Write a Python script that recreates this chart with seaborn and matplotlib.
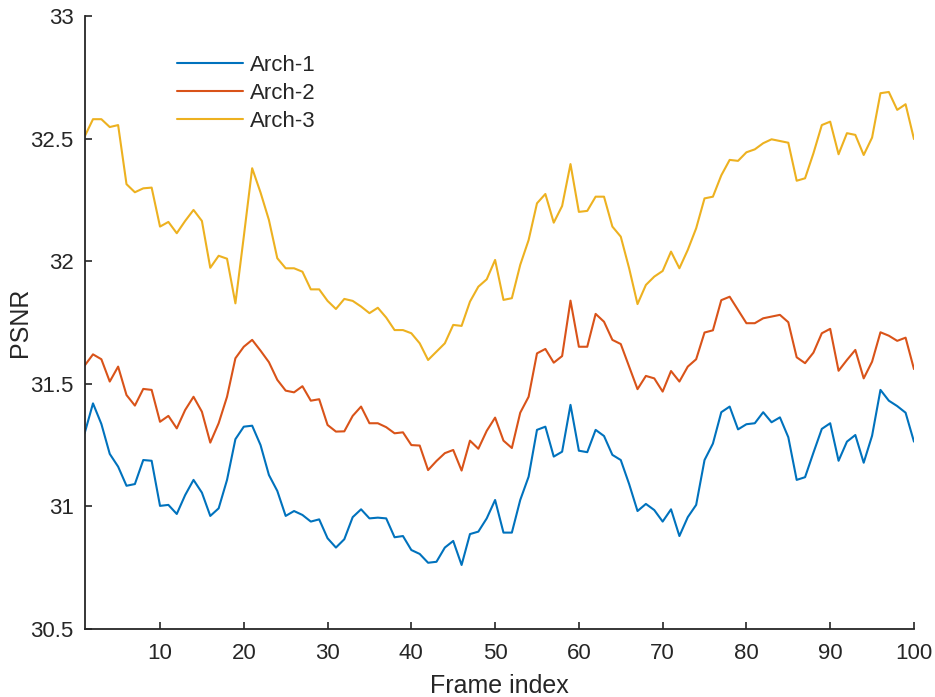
import numpy as np
import pandas as pd
import seaborn as sns
import matplotlib
matplotlib.use("Agg")
import matplotlib.pyplot as plt

# frame indices 1..100
frames = list(range(1, 101))

# PSNR values
arch1 = [31.298, 31.420, 31.336, 31.214, 31.162, 31.084, 31.091, 31.189, 31.186, 31.002,
         31.006, 30.969, 31.046, 31.108, 31.056, 30.961, 30.992, 31.108, 31.274, 31.325,
         31.329, 31.250, 31.128, 31.063, 30.961, 30.981, 30.965, 30.938, 30.947, 30.870,
         30.832, 30.866, 30.956, 30.988, 30.951, 30.954, 30.951, 30.874, 30.879, 30.822,
         30.806, 30.770, 30.774, 30.832, 30.859, 30.761, 30.887, 30.897, 30.951, 31.026,
         30.893, 30.893, 31.026, 31.121, 31.312, 31.325, 31.203, 31.223, 31.414, 31.227,
         31.221, 31.312, 31.287, 31.210, 31.189, 31.091, 30.981, 31.010, 30.985, 30.938,
         30.988, 30.879, 30.956, 31.006, 31.189, 31.256, 31.384, 31.407, 31.314, 31.335,
         31.339, 31.384, 31.343, 31.363, 31.282, 31.108, 31.119, 31.219, 31.316, 31.339,
         31.186, 31.264, 31.291, 31.178, 31.288, 31.475, 31.431, 31.409, 31.382, 31.264]

arch2 = [31.574, 31.620, 31.600, 31.509, 31.570, 31.454, 31.411, 31.479, 31.475, 31.345,
         31.369, 31.318, 31.393, 31.447, 31.386, 31.260, 31.339, 31.447, 31.604, 31.651,
         31.679, 31.635, 31.588, 31.516, 31.472, 31.465, 31.490, 31.431, 31.437, 31.332,
         31.305, 31.306, 31.369, 31.407, 31.339, 31.339, 31.323, 31.298, 31.302, 31.250,
         31.248, 31.148, 31.185, 31.217, 31.230, 31.146, 31.268, 31.235, 31.308, 31.362,
         31.268, 31.238, 31.382, 31.447, 31.624, 31.642, 31.586, 31.613, 31.839, 31.651,
         31.651, 31.785, 31.753, 31.679, 31.662, 31.570, 31.478, 31.532, 31.522, 31.468,
         31.552, 31.509, 31.570, 31.600, 31.709, 31.718, 31.841, 31.855, 31.801, 31.747,
         31.747, 31.767, 31.774, 31.781, 31.751, 31.608, 31.584, 31.627, 31.706, 31.724,
         31.553, 31.597, 31.638, 31.522, 31.590, 31.710, 31.696, 31.675, 31.688, 31.560]

arch3 = [32.508, 32.579, 32.579, 32.547, 32.555, 32.314, 32.281, 32.297, 32.300, 32.141,
         32.160, 32.114, 32.164, 32.209, 32.164, 31.973, 32.022, 32.010, 31.828, 32.100,
         32.379, 32.280, 32.168, 32.012, 31.971, 31.971, 31.957, 31.885, 31.885, 31.838,
         31.805, 31.846, 31.838, 31.815, 31.788, 31.810, 31.770, 31.719, 31.719, 31.706,
         31.665, 31.597, 31.631, 31.665, 31.740, 31.736, 31.835, 31.896, 31.926, 32.005,
         31.842, 31.849, 31.985, 32.086, 32.236, 32.274, 32.157, 32.225, 32.396, 32.201,
         32.205, 32.263, 32.263, 32.141, 32.100, 31.971, 31.825, 31.903, 31.937, 31.960,
         32.039, 31.971, 32.046, 32.134, 32.256, 32.263, 32.350, 32.413, 32.409, 32.444,
         32.456, 32.481, 32.497, 32.490, 32.483, 32.328, 32.338, 32.440, 32.555, 32.569,
         32.436, 32.522, 32.515, 32.433, 32.504, 32.685, 32.690, 32.617, 32.640, 32.498]

series_names = ["Arch-1", "Arch-2", "Arch-3"]
colors = ["#0072BD", "#D95319", "#EDB120"]

x_ticks = [10, 20, 30, 40, 50, 60, 70, 80, 90, 100]
y_ticks = [30.5, 31, 31.5, 32, 32.5, 33]
y_tick_labels = ["30.5", "31", "31.5", "32", "32.5", "33"]

# long-format table for seaborn
df = pd.DataFrame({
    "Frame index": frames * 3,
    "PSNR": arch1 + arch2 + arch3,
    "Arch": [n for n in series_names for _ in frames],
})

sns.set_style("ticks")
plt.rcParams["font.family"] = ["Liberation Sans", "DejaVu Sans"]
plt.rcParams["xtick.direction"] = "in"
plt.rcParams["ytick.direction"] = "in"

fig = plt.figure(figsize=(9.35, 6.97), dpi=100)
ax = fig.add_axes([0.0905, 0.0976, 0.8870, 0.8795])

sns.lineplot(data=df, x="Frame index", y="PSNR", hue="Arch",
             palette=colors, linewidth=1.5, ax=ax)

ax.set_xlim(1, 100)
ax.set_ylim(30.5, 33)
ax.set_xticks(x_ticks)
ax.set_yticks(y_ticks)
ax.set_yticklabels(y_tick_labels)

grey = "#262626"
ax.tick_params(axis="both", labelsize=16, colors=grey, length=5, width=1.2)
ax.tick_params(axis="x", pad=10)
ax.tick_params(axis="y", pad=8)
for s in ["left", "bottom"]:
    ax.spines[s].set_color(grey)
    ax.spines[s].set_linewidth(1.3)
sns.despine(ax=ax)

ax.set_xlabel("Frame index", fontsize=18, color=grey, labelpad=7)
ax.set_ylabel("PSNR", fontsize=18, color=grey, labelpad=-1.5)

leg = ax.legend(loc="upper left", bbox_to_anchor=(0.111, 0.937), frameon=False,
                fontsize=16, handlelength=3.0, handletextpad=0.3,
                labelspacing=0.33, borderpad=0, borderaxespad=0)
for t in leg.get_texts():
    t.set_color(grey)

fig.savefig("out.png", dpi=100)
